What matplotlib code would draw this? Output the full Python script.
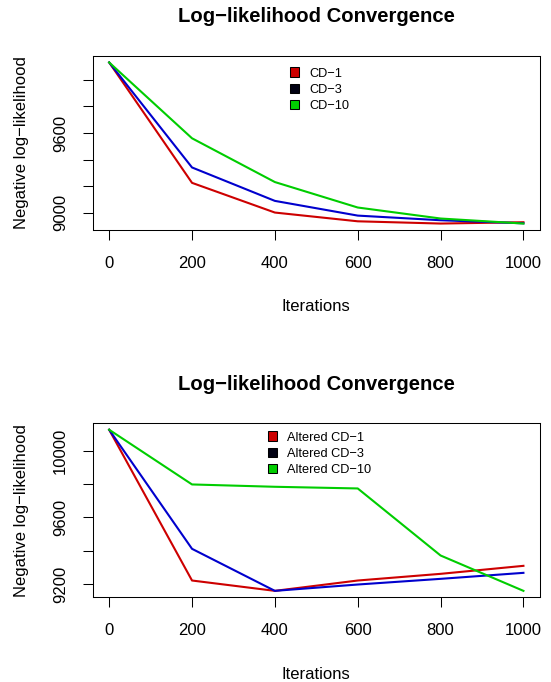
import matplotlib
matplotlib.use("Agg")
import matplotlib.pyplot as plt
from matplotlib.patches import Patch

plt.rcParams['font.family'] = ['Liberation Sans', 'DejaVu Sans']

# ---- data ----
iterations = [0, 200, 400, 600, 800, 1000]

cd1 = [10132, 9224, 9000, 8934, 8917, 8927]
cd3 = [10132, 9340, 9088, 8977, 8942, 8919]
cd10 = [10132, 9560, 9230, 9038, 8955, 8917]

alt_cd1 = [10126, 9222, 9160, 9222, 9262, 9310]
alt_cd3 = [10126, 9412, 9160, 9198, 9232, 9268]
alt_cd10 = [10126, 9798, 9784, 9774, 9372, 9160]

top_labels = ["CD\u22121", "CD\u22123", "CD\u221210"]
bottom_labels = ["Altered CD\u22121", "Altered CD\u22123", "Altered CD\u221210"]

xticks = [0, 200, 400, 600, 800, 1000]
top_yticks = [9000, 9200, 9400, 9600, 9800, 10000]
top_yticklabels = ["9000", "", "", "9600", "", ""]
bottom_yticks = [9200, 9400, 9600, 9800, 10000]
bottom_yticklabels = ["9200", "", "9600", "", "10000"]

title = "Log\u2212likelihood Convergence"
xlabel = "Iterations"
ylabel = "Negative log\u2212likelihood"

line_colors = ["#CD0000", "#0000CD", "#00CD00"]
legend_fills = ["#CD0000", "#000012", "#00CD00"]

W, H = 551, 682
fig = plt.figure(figsize=(W / 100, H / 100), dpi=100)

left = 92.6 / W
width = (540 - 92.6) / W
height = 174 / H


def panel(bottom_px, series, labels, yticks, yticklabels, leg_y):
    ax = fig.add_axes([left, 1 - bottom_px / H, width, height])
    for ys, c in zip(series, line_colors):
        ax.plot(iterations, ys, color=c, linewidth=1.5, solid_joinstyle='round')
    ax.margins(x=0.04, y=0.04)
    ax.set_xticks(xticks)
    ax.set_xticklabels([str(t) for t in xticks])
    ax.set_yticks(yticks)
    ax.set_yticklabels(yticklabels)
    ax.tick_params(axis='both', direction='out', length=7.2, width=0.75,
                   labelsize=12, color='black')
    ax.tick_params(axis='x', pad=11.5)
    ax.tick_params(axis='y', pad=12.5)
    plt.setp(ax.get_yticklabels(), rotation=90, rotation_mode='anchor',
             ha='center', va='baseline')
    for s in ax.spines.values():
        s.set_linewidth(0.75)
        s.set_color('black')
    ax.set_title(title, fontsize=14.6, fontweight='bold', pad=24.3)
    ax.set_xlabel(xlabel, fontsize=12, va='baseline')
    ax.xaxis.set_label_coords(0.5, -81.5 / 174)
    ax.set_ylabel(ylabel, fontsize=12, va='baseline')
    ax.yaxis.set_label_coords(-67 / 447.4, 0.5)
    handles = [Patch(facecolor=f, edgecolor='black', linewidth=0.75) for f in legend_fills]
    ax.legend(handles, labels, loc='upper center',
              bbox_to_anchor=((319.5 - 92.6) / 447.4, leg_y),
              frameon=False, fontsize=9.2, handlelength=0.75, handleheight=0.75,
              handletextpad=0.8, labelspacing=0.31, borderpad=0, borderaxespad=0)
    return ax


panel(230.0, [cd1, cd3, cd10], top_labels, top_yticks, top_yticklabels, 0.934)
panel(597.3, [alt_cd1, alt_cd3, alt_cd10], bottom_labels, bottom_yticks,
      bottom_yticklabels, 0.953)

fig.savefig("out.png", dpi=100)
